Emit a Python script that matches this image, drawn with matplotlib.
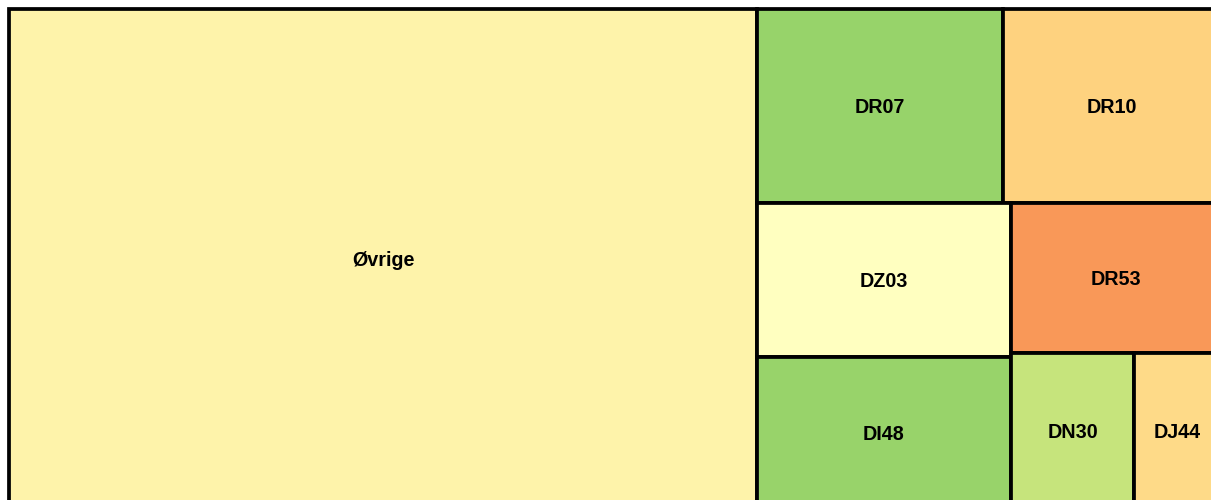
import matplotlib
matplotlib.use("Agg")
import matplotlib.pyplot as plt
from matplotlib.patches import Rectangle

labels = ["Øvrige", "DR07", "DR10", "DZ03", "DI48", "DR53", "DN30", "DJ44"]
values = [3733, 477, 423, 391, 384, 315, 191, 135]
colors = ["#fef3aa", "#97d36a", "#fed27f", "#ffffc0", "#98d36a", "#f99858", "#c6e47c", "#feda88"]

W, H = 1212.0, 499.0


def normalize(sizes, dx, dy):
    tot = sum(sizes)
    return [s * dx * dy / tot for s in sizes]


def layoutrow(sizes, x, y, dx, dy):
    covered = sum(sizes)
    width = covered / dy
    rects = []
    for s in sizes:
        rects.append((x, y, width, s / width))
        y += s / width
    return rects


def layoutcol(sizes, x, y, dx, dy):
    covered = sum(sizes)
    height = covered / dx
    rects = []
    for s in sizes:
        rects.append((x, y, s / height, height))
        x += s / height
    return rects


def layout(sizes, x, y, dx, dy):
    return layoutrow(sizes, x, y, dx, dy) if dx >= dy else layoutcol(sizes, x, y, dx, dy)


def leftover(sizes, x, y, dx, dy):
    covered = sum(sizes)
    if dx >= dy:
        width = covered / dy
        return x + width, y, dx - width, dy
    height = covered / dx
    return x, y + height, dx, dy - height


def worst(sizes, x, y, dx, dy):
    return max(max(r[2] / r[3], r[3] / r[2]) for r in layout(sizes, x, y, dx, dy))


def squarify(sizes, x, y, dx, dy):
    sizes = list(sizes)
    if len(sizes) == 0:
        return []
    if len(sizes) == 1:
        return layout(sizes, x, y, dx, dy)
    i = 1
    while i < len(sizes) and worst(sizes[:i], x, y, dx, dy) >= worst(sizes[:i + 1], x, y, dx, dy):
        i += 1
    current, remaining = sizes[:i], sizes[i:]
    lx, ly, ldx, ldy = leftover(current, x, y, dx, dy)
    return layout(current, x, y, dx, dy) + squarify(remaining, lx, ly, ldx, ldy)


fig = plt.figure(figsize=(12.11, 5.0), dpi=100)
ax = fig.add_axes([9 / 1211, (500 - 508) / 500, W / 1211, H / 500])
ax.set_xlim(0, W)
ax.set_ylim(H, 0)
ax.axis("off")

rects = squarify(normalize(values, W, H), 0, 0, W, H)
for (rx, ry, rw, rh), lab, col in zip(rects, labels, colors):
    ax.add_patch(Rectangle((rx, ry), rw, rh, facecolor=col, edgecolor="black",
                           linewidth=2.7, clip_on=False))
    ax.text(rx + rw / 2, ry + rh / 2, lab, ha="center", va="center_baseline",
            fontsize=14.2, fontweight="bold", family=["Liberation Sans", "DejaVu Sans"],
            color="black")

fig.savefig("out.png", dpi=100)
